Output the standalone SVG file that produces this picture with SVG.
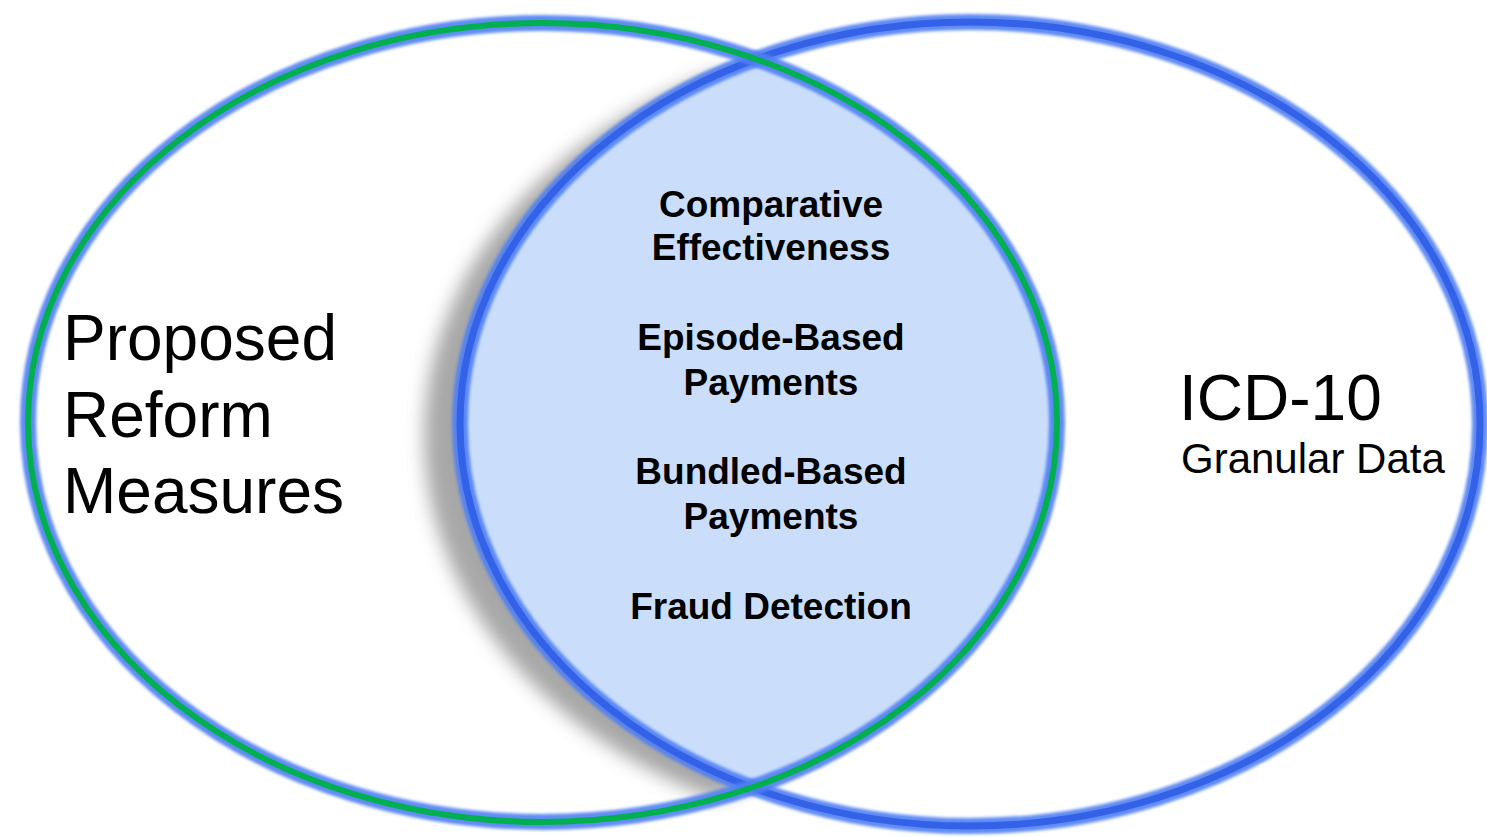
<svg xmlns="http://www.w3.org/2000/svg" width="1487" height="837" viewBox="0 0 1487 837">
  <style>
    .glow { fill: none; stroke: #4F7FF3; stroke-width: 16; stroke-opacity: 0.9; }
    .lineL { fill: none; stroke: #00B050; stroke-width: 6; }
    .lineR { fill: none; stroke: #3362E8; stroke-width: 7; }
    .big { font-family: "Liberation Sans", Arial, sans-serif; fill: #000; }
    .mid { font-family: "Liberation Sans", Arial, sans-serif; font-weight: bold; font-size: 37px; fill: #000; text-anchor: middle; }
  </style>
  <defs>
    <clipPath id="clipL">
      <ellipse cx="542.5" cy="422.5" rx="514.5" ry="399.5"/>
    </clipPath>
    <filter id="blurGlow" x="-5%" y="-5%" width="110%" height="110%">
      <feGaussianBlur stdDeviation="1.6"/>
    </filter>
    <filter id="shadowBlur" x="-20%" y="-10%" width="140%" height="120%">
      <feGaussianBlur stdDeviation="9"/>
    </filter>
  </defs>
  <rect width="1487" height="837" fill="#FFFFFF"/>

  <g id="intersection">
    <g transform="translate(-36,12)" filter="url(#shadowBlur)" opacity="0.75">
      <ellipse cx="970" cy="424" rx="510" ry="402" fill="#8A8A8A" clip-path="url(#clipL)"/>
    </g>
    <ellipse cx="970" cy="424" rx="510" ry="402" fill="#CADEFC" clip-path="url(#clipL)"/>
  </g>

  <g id="icd10">
    <ellipse class="glow" cx="970" cy="424" rx="510" ry="402" filter="url(#blurGlow)"/>
    <ellipse class="lineR" cx="970" cy="424" rx="510" ry="402"/>
    <text class="big" x="1179" y="420" font-size="64">ICD-10</text>
    <text class="big" x="1181" y="473" font-size="42">Granular Data</text>
  </g>

  <g id="reform">
    <ellipse class="glow" cx="542.5" cy="422.5" rx="514.5" ry="399.5" filter="url(#blurGlow)"/>
    <ellipse class="lineL" cx="542.5" cy="422.5" rx="514.5" ry="399.5"/>
    <text class="big" x="63" y="360" font-size="64">Proposed</text>
    <text class="big" x="63" y="437" font-size="64">Reform</text>
    <text class="big" x="63" y="513" font-size="64">Measures</text>
  </g>

  <g id="overlap-labels">
    <text class="mid" x="771" y="217">Comparative</text>
    <text class="mid" x="771" y="260">Effectiveness</text>
    <text class="mid" x="771" y="350">Episode-Based</text>
    <text class="mid" x="771" y="395">Payments</text>
    <text class="mid" x="771" y="484">Bundled-Based</text>
    <text class="mid" x="771" y="529">Payments</text>
    <text class="mid" x="771" y="619">Fraud Detection</text>
  </g>

  <g id="connectors"/>
</svg>
